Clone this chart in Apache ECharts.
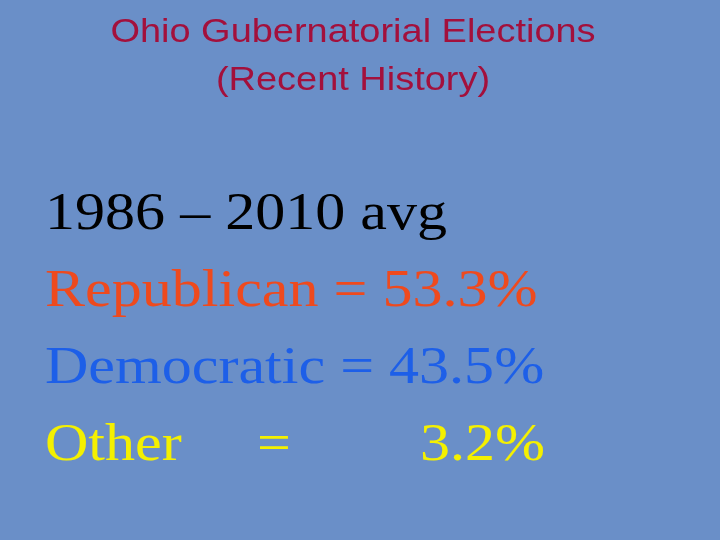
<!DOCTYPE html>
<html><head><meta charset="utf-8">
<script src="https://cdn.jsdelivr.net/npm/echarts@6/dist/echarts.min.js"></script>
<style>html,body{margin:0;padding:0;background:#6a8fc8}#c{width:720px;height:540px}</style>
</head><body><div id="c"></div>
<script>
const titleLines = ['Ohio Gubernatorial Elections', '(Recent History)'];
const periodLabel = '1986 – 2010 avg';
const parties = ['Republican', 'Democratic', 'Other'];
const values = [53.3, 43.5, 3.2];
const partyColors = {Republican: '#ee4a1e', Democratic: '#1d5fe8', Other: '#f4f000'};

const chart = echarts.init(document.getElementById('c'));
const serif = '"Liberation Serif","DejaVu Serif",serif';
const g = [];
function txt(text, x, y, fill, font, align, sx) {
  g.push({type: 'text', x: x, y: y, scaleX: sx, scaleY: 1,
    style: {text: text, fill: fill, font: font, align: align || 'left', verticalAlign: 'top',
      textAlign: align || 'left', textVerticalAlign: 'top'}});
}
titleLines.forEach((t, i) => txt(t, 353, 16 + i * 48, '#a3103c', '33px "Liberation Sans",Arial,sans-serif', 'center', 1.15));
txt(periodLabel, 45, 189, '#000', '52px ' + serif, 'left', 1.155);
parties.forEach((p, i) => {
  const y = 266 + i * 77;
  const v = values[i].toFixed(1) + '%';
  if (p === 'Other') {
    txt(p, 45, y, partyColors[p], '52px ' + serif, 'left', 1.155);
    txt('=', 257, y, partyColors[p], '52px ' + serif, 'left', 1.155);
    txt(v, 420, y, partyColors[p], '52px ' + serif, 'left', 1.155);
  } else {
    txt(p + ' = ' + v, 45, y, partyColors[p], '52px ' + serif, 'left', 1.155);
  }
});
chart.setOption({backgroundColor: '#6a8fc8', graphic: g});
</script></body></html>
